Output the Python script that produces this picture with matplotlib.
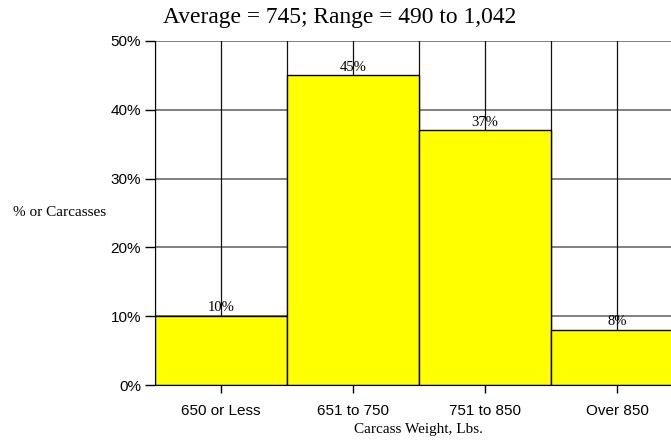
import matplotlib.pyplot as plt
import numpy as np

CATEGORIES = ['650 or Less', '651 to 750', '751 to 850', 'Over 850']
PERCENT = [10, 45, 37, 8]
Y_TICKS = [0, 10, 20, 30, 40, 50]

TITLE = "Average = 745; Range = 490 to 1,042"

fig = plt.figure(figsize=(6.71, 4.4), dpi=100)
ax = fig.add_axes([0.231, 0.125, 0.787, 0.782])

x = np.arange(len(CATEGORIES))

# grid behind the bars: horizontal at each 10%, vertical at every half bar
for y in Y_TICKS[1:]:
    ax.axhline(y, color='#808080', linewidth=1.4, zorder=0)
for gx in np.arange(-0.5, len(CATEGORIES), 0.5):
    ax.axvline(gx, color='#101010', linewidth=0.9, zorder=0)

ax.bar(x, PERCENT, width=1.0, color='#ffff00', edgecolor='black',
       linewidth=1.0, zorder=2)

for xi, v in zip(x, PERCENT):
    ax.text(xi, v + 0.25, f"{v}%", ha='center', va='bottom',
            family='Liberation Serif', fontsize=10.5, zorder=3)

ax.set_xlim(-0.5, len(CATEGORIES) - 0.5)
ax.set_ylim(0, 50)

ax.set_yticks(Y_TICKS)
ax.set_yticklabels([f"{t}%" for t in Y_TICKS], family='Liberation Sans',
                   fontsize=11)
ax.set_xticks(x)
ax.set_xticklabels(CATEGORIES, family='Liberation Sans', fontsize=11)
ax.set_xticks(np.concatenate([x - 0.25, x + 0.25]), minor=True)

ax.tick_params(axis='x', which='major', direction='out', length=6, width=1,
               pad=8)
ax.tick_params(axis='x', which='minor', direction='in', length=3, width=1)
ax.tick_params(axis='y', which='major', direction='out', length=7, width=1,
               pad=3)

for side in ['top', 'right']:
    ax.spines[side].set_visible(False)
ax.spines['left'].set_zorder(4)
ax.spines['bottom'].set_zorder(4)

ax.set_title(TITLE, family='Liberation Serif', fontsize=16.9, pad=13,
             x=0.35)
ax.set_xlabel("Carcass Weight, Lbs.", family='Liberation Serif',
              fontsize=11, labelpad=3, x=0.498)
ax.set_ylabel("% or Carcasses", family='Liberation Serif', fontsize=11,
              rotation=0, ha='center', va='center')
ax.yaxis.set_label_coords(-0.18, 0.5)

fig.savefig('out.png', dpi=100)
